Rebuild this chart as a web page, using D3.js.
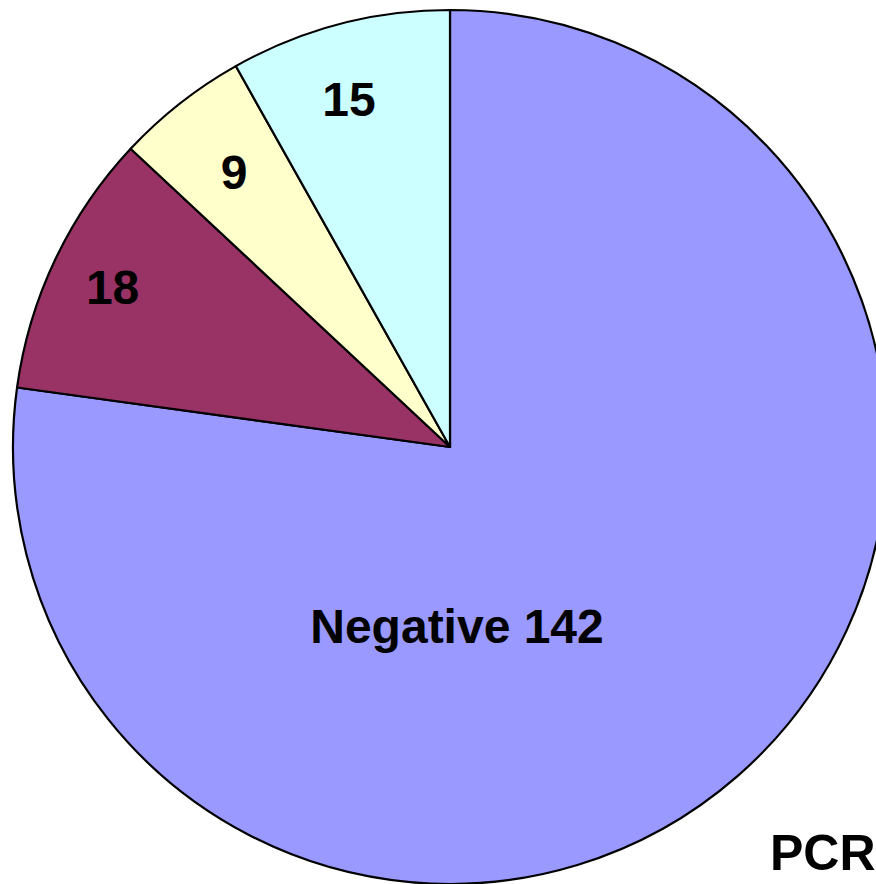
<!DOCTYPE html>
<html>
<head>
<meta charset="utf-8">
<script src="https://cdn.jsdelivr.net/npm/d3@7"></script>
<style>
  body { margin: 0; background: #fff; }
  svg { display: block; }
</style>
</head>
<body>
<svg id="chart"></svg>
<script>
// set the dimensions of the graph
var width = 876,
    height = 884,
    cx = 450,
    cy = 447,
    radius = 437;

// slices, clockwise from 12 o'clock
var categories = ["Negative", "B", "C", "D"];
var values = [142, 18, 9, 15];
var labels = ["Negative 142", "18", "9", "15"];
var colors = ["#9999ff", "#993366", "#ffffcc", "#ccffff"];
var title = "PCR";

var svg = d3.select("#chart")
    .attr("width", width)
    .attr("height", height);

var g = svg.append("g")
    .attr("transform", "translate(" + cx + "," + cy + ")");

var color = d3.scaleOrdinal()
    .domain(categories)
    .range(colors);

var pie = d3.pie()
    .sort(null)
    .value(function(d, i) { return values[i]; });

var arc = d3.arc()
    .innerRadius(0)
    .outerRadius(radius);

// label radius as a fraction of the pie radius, slice by slice
var labelFrac = [0, 0.855, 0.80, 0.83];
var labelShift = [0, 0, 0, -1.5]; // small angular nudge in degrees

var arcs = g.selectAll(".arc")
    .data(pie(categories))
  .enter()
    .append("g")
    .attr("class", "arc");

arcs.append("path")
    .attr("d", arc)
    .style("fill", function(d) { return color(d.data); })
    .style("stroke", "#000")
    .style("stroke-width", 2.2)
    .style("stroke-linejoin", "round");

// small slices get the label near the rim, the big one sits below the centre
arcs.append("text")
    .attr("transform", function(d, i) {
      if (i === 0) return "translate(7," + (radius * 0.41) + ")";
      var r = radius * labelFrac[i];
      var a = (d.startAngle + d.endAngle) / 2 + labelShift[i] * Math.PI / 180;
      return "translate(" + (r * Math.sin(a)) + "," + (-r * Math.cos(a)) + ")";
    })
    .attr("text-anchor", "middle")
    .attr("dy", "0.36em")
    .attr("font-family", "'Liberation Sans', Arial, sans-serif")
    .attr("font-weight", "bold")
    .attr("font-size", "48px")
    .text(function(d, i) { return labels[i]; });

svg.append("text")
    .attr("x", 770)
    .attr("y", 870)
    .attr("font-family", "'Liberation Sans', Arial, sans-serif")
    .attr("font-weight", "bold")
    .attr("font-size", "50px")
    .text(title);
</script>
</body>
</html>
